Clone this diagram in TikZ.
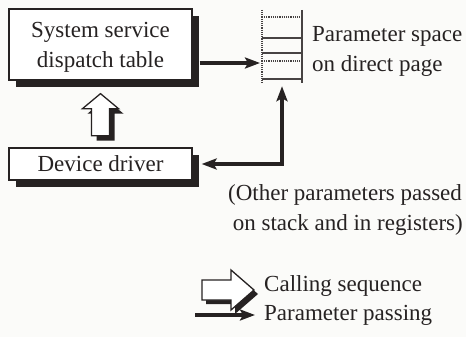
\documentclass[tikz,border=0pt]{standalone}
\usepackage{fontspec}
\setmainfont{Liberation Serif}
\usetikzlibrary{arrows.meta,shadows}
\definecolor{ink}{RGB}{38,34,34}
\definecolor{paper}{RGB}{251,251,249}
\tikzset{
  label text/.style={font=\fontsize{23}{30}\selectfont, text=ink, inner sep=0pt},
  unit box/.style={draw=ink, line width=1.3pt, fill=white, inner sep=0pt,
    minimum width=183pt,
    general shadow={fill=ink, shadow xshift=7pt, shadow yshift=-7pt}},
  pass/.style={draw=ink, line width=3.6pt, >={Stealth[length=15pt, width=11pt, inset=3pt]}},
  fat outline/.style={draw=ink, line width=1.3pt, fill=white, line join=miter},
  fat shadow/.style={fill=ink},
  rung/.style={draw=ink!85, line width=2.4pt},
  dotted rung/.style={draw=ink!85, line width=2.4pt, dash pattern=on 1.2pt off 1pt},
}
\begin{document}
\begin{tikzpicture}[x=1pt,y=-1pt]
\fill[paper] (0,0) rectangle (466,337);
\useasboundingbox (0,0) rectangle (466,337);

% the two units
\node[unit box, minimum height=71pt] (dispatch) at (100.5,44.5) {};
\node[label text, anchor=base] (dispatchA) at (100.5,38) {System service};
\node[label text, anchor=base] (dispatchB) at (100.5,67) {dispatch table};
\node[unit box, label text, minimum height=32pt] (driver) at (100.5,164) {Device driver};

% parameter space: a ladder of direct-page slots
\node[minimum width=40pt, minimum height=73pt, inner sep=0pt] (ladder) at (282,46.5) {};
\draw[dotted rung] (ladder.north west) -- (ladder.south west);
\draw[rung, line width=1.8pt] (ladder.north east) -- (ladder.south east);
\draw[dotted rung] ([yshift=-7pt]ladder.north west) -- ([yshift=-7pt]ladder.north east);
\draw[rung] ([yshift=-28pt]ladder.north west) -- ([yshift=-28pt]ladder.north east);
\draw[rung] ([yshift=-43pt]ladder.north west) -- ([yshift=-43pt]ladder.north east);
\draw[dotted rung] ([yshift=-51pt]ladder.north west) -- ([yshift=-51pt]ladder.north east);
\draw[rung] ([yshift=-69pt]ladder.north west) -- ([yshift=-69pt]ladder.north east);

\node[label text, anchor=base west] (spaceA) at (312,42) {Parameter space};
\node[label text, anchor=base west] (spaceB) at (312,72) {on direct page};

% parameter passing
\coordinate (feed) at (260,63);
\draw[pass, ->] ([xshift=7pt]dispatch.east |- feed) -- (feed);
\draw[pass, <->] ([xshift=9pt]driver.east) -| ([yshift=-3pt]ladder.south);

% calling sequence
\coordinate (callTip) at ([yshift=-13pt]dispatch.south);
\fill[fat shadow] ([shift={(5,5)}]callTip) -- ++(18,15) -- ++(-9,0) -- ++(0,27)
  -- ++(-18,0) -- ++(0,-27) -- ++(-9,0) -- cycle;
\draw[fat outline] (callTip) -- ++(18,15) -- ++(-9,0) -- ++(0,27)
  -- ++(-18,0) -- ++(0,-27) -- ++(-9,0) -- cycle;

% note
\node[label text, anchor=base west] (noteA) at (228,200) {(Other parameters passed};
\node[label text, anchor=base east] (noteB) at (463,230) {on stack and in registers)};

% legend
\coordinate (legTip) at (254,290);
\fill[fat shadow] ([shift={(4,4)}]legTip) -- ++(-23,20) -- ++(0,-10) -- ++(-29,0)
  -- ++(0,-20) -- ++(29,0) -- ++(0,-10) -- cycle;
\draw[fat outline] (legTip) -- ++(-23,20) -- ++(0,-10) -- ++(-29,0)
  -- ++(0,-20) -- ++(29,0) -- ++(0,-10) -- cycle;
\node[label text, anchor=base west] (legCall) at (264,291) {Calling sequence};
\node[label text, anchor=base west] (legPass) at (264,320) {Parameter passing};
\coordinate (passFrom) at (195,315);
\coordinate (passTo) at (255,315);
\draw[pass, ->] (passFrom) -- (passTo);
\end{tikzpicture}
\end{document}
